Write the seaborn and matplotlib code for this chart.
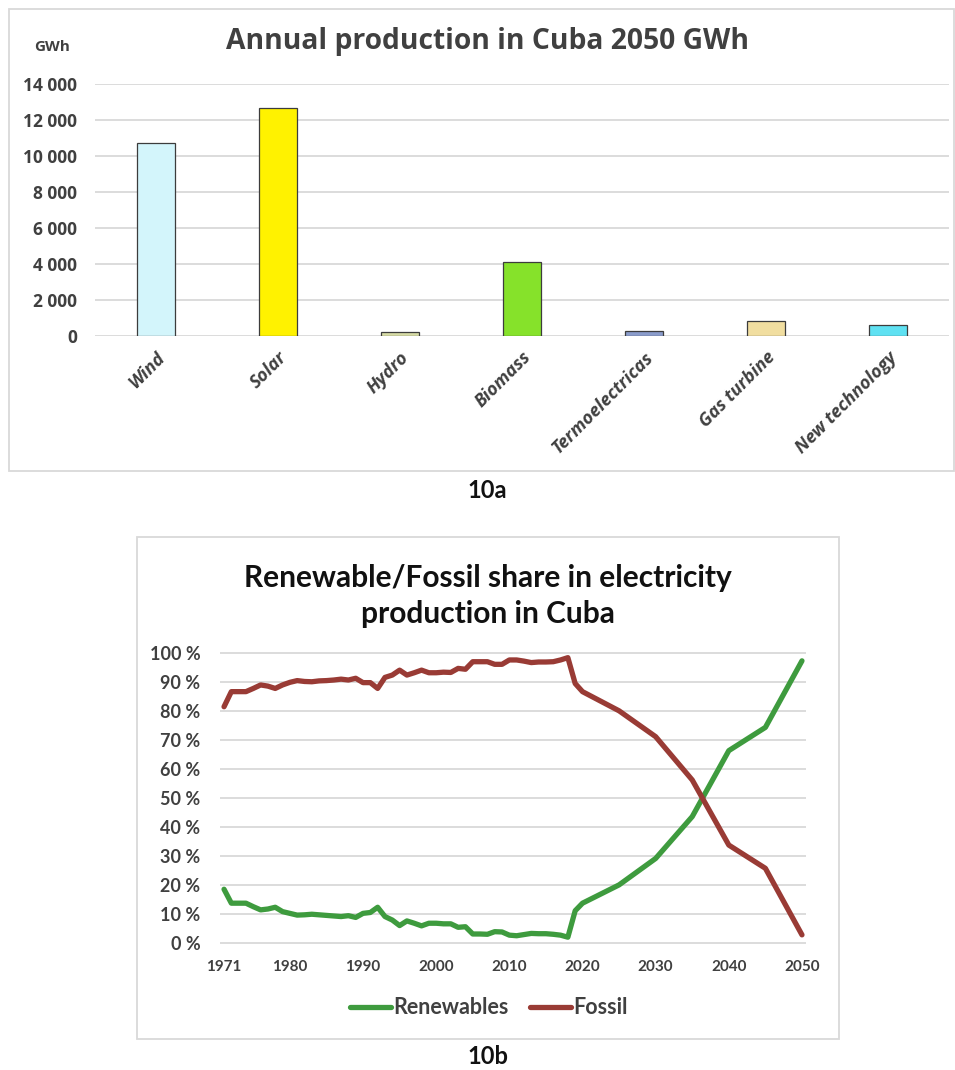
import matplotlib
matplotlib.use("Agg")
import matplotlib.pyplot as plt
from matplotlib.patches import Rectangle
from matplotlib.ticker import FuncFormatter
import seaborn as sns
import pandas as pd

# ---- 10a: annual production by source in 2050 (GWh) ----
categories = ["Wind", "Solar", "Hydro", "Biomass", "Termoelectricas",
              "Gas turbine", "New technology"]
production_gwh = [10700, 12650, 230, 4120, 260, 840, 600]
bar_colors = ["#d3f5fb", "#fff200", "#d7dca6", "#86e22a", "#8a9ccb",
              "#f1dea0", "#5fe1f2"]
gwh_ticks = [0, 2000, 4000, 6000, 8000, 10000, 12000, 14000]

# ---- 10b: renewable / fossil share of electricity production (%) ----
years = list(range(1971, 2019)) + [2019, 2020, 2025, 2030, 2035, 2040, 2045, 2050]
renewables = [18.6, 13.8, 13.8, 13.8, 12.6, 11.5, 11.8, 12.4, 10.9, 10.3,
              9.7, 9.8, 10.0, 9.8, 9.6, 9.4, 9.2, 9.5, 8.9, 10.3,
              10.6, 12.4, 9.2, 8.0, 6.1, 7.7, 6.9, 6.0, 6.9, 6.9,
              6.7, 6.7, 5.5, 5.7, 3.2, 3.2, 3.1, 4.0, 3.9, 2.8,
              2.6, 3.0, 3.4, 3.3, 3.3, 3.1, 2.8, 2.1,
              11.2, 13.8, 20.1, 29.2, 43.6, 66.3, 74.3, 97.2]
fossil = [81.4, 86.6, 86.6, 86.6, 87.7, 88.9, 88.5, 87.7, 88.9, 89.8,
          90.4, 90.1, 90.0, 90.3, 90.4, 90.6, 90.9, 90.6, 91.2, 89.7,
          89.7, 87.7, 91.5, 92.3, 94.0, 92.3, 93.1, 94.0, 93.1, 93.1,
          93.3, 93.2, 94.6, 94.3, 96.9, 96.9, 96.9, 96.0, 96.0, 97.5,
          97.5, 97.1, 96.6, 96.8, 96.8, 96.9, 97.5, 98.3,
          89.4, 86.6, 80.0, 71.1, 56.2, 33.8, 25.8, 2.9]
year_ticks = [1971, 1980, 1990, 2000, 2010, 2020, 2030, 2040, 2050]
share_ticks = list(range(0, 101, 10))
series_colors = {"Renewables": "#3e9b3e", "Fossil": "#993b35"}

W, H = 955, 1070
sns.set_theme(style="white")
plt.rcParams["font.family"] = ["Open Sans", "DejaVu Sans"]

TXT = "#404040"
GRID = "#d9d9d9"
LATO = ["Lato", "DejaVu Sans"]

fig = plt.figure(figsize=(W / 100, H / 100), dpi=100)


def px_rect(left, top, right, bottom):
    return [left / W, 1 - bottom / H, (right - left) / W, (bottom - top) / H]


def frame(left, top, right, bottom):
    fig.patches.append(Rectangle((left / W, 1 - bottom / H),
                                 (right - left) / W, (bottom - top) / H,
                                 transform=fig.transFigure, fill=False,
                                 ec=GRID, lw=1.3, zorder=0))


def fx(x):
    return x / W


def fy(y):
    return 1 - y / H


# ---------------- top chart ----------------
frame(8.5, 8.5, 954, 471)
ax1 = fig.add_axes(px_rect(95, 84, 949, 335.7))
df_a = pd.DataFrame({"source": categories, "gwh": production_gwh})
sns.barplot(data=df_a, x="source", y="gwh", hue="source", palette=bar_colors,
            saturation=1, width=0.31, edgecolor="#3c3c3c", linewidth=0.9,
            legend=False, ax=ax1, zorder=3)
ax1.set_xlim(-0.5, len(categories) - 0.5)
ax1.set_ylim(0, 14000)
ax1.set_yticks(gwh_ticks)
ax1.yaxis.set_major_formatter(FuncFormatter(lambda v, p: f"{int(v):,}".replace(",", " ")))
ax1.grid(axis="y", color=GRID, lw=1.3, zorder=0)
ax1.set_axisbelow(True)
for s in ax1.spines.values():
    s.set_visible(False)
ax1.set_xlabel("")
ax1.set_ylabel("")
ax1.tick_params(axis="y", length=0, pad=13, labelsize=12.5, labelcolor=TXT)
ax1.tick_params(axis="x", length=0, pad=9, labelcolor=TXT)
for lab in ax1.get_yticklabels():
    lab.set_fontweight("bold")
ax1.set_xticks(range(len(categories)))
ax1.set_xticklabels(categories, rotation=45, ha="right", rotation_mode="anchor",
                    fontsize=13, fontweight="bold", fontstyle="italic", color=TXT)

fig.text(fx(487), fy(42), "Annual production in Cuba 2050 GWh", ha="center",
         va="center", fontsize=20.3, fontweight="bold", color=TXT)
fig.text(fx(52), fy(47), "GWh", ha="center", va="center", fontsize=11,
         fontweight="bold", color=TXT)
fig.text(fx(487), fy(491), "10a", ha="center", va="center", fontsize=17,
         fontweight="bold", color="#111111", family=LATO)

# ---------------- bottom chart ----------------
frame(137, 537, 839, 1039)
ax2 = fig.add_axes(px_rect(220, 648.05, 806, 946.2))
df_b = pd.concat([
    pd.DataFrame({"year": years, "share": renewables, "source": "Renewables"}),
    pd.DataFrame({"year": years, "share": fossil, "source": "Fossil"}),
])
sns.lineplot(data=df_b, x="year", y="share", hue="source", palette=series_colors,
             linewidth=3.8, ax=ax2, legend=False, zorder=3,
             solid_capstyle="round", solid_joinstyle="round")
ax2.set_xlim(1970.45, 2050.55)
ax2.set_ylim(-1, 101.6)
ax2.set_yticks(share_ticks)
ax2.set_yticklabels([f"{v} %" for v in share_ticks])
ax2.set_xticks(year_ticks)
ax2.set_xticklabels([str(y) for y in year_ticks])
ax2.grid(axis="y", color=GRID, lw=1.3, zorder=0)
ax2.set_axisbelow(True)
for s in ax2.spines.values():
    s.set_visible(False)
ax2.set_xlabel("")
ax2.set_ylabel("")
ax2.tick_params(axis="y", length=0, pad=14, labelsize=13, labelcolor=TXT)
ax2.tick_params(axis="x", length=0, pad=10, labelsize=11, labelcolor=TXT)
for lab in ax2.get_yticklabels() + ax2.get_xticklabels():
    lab.set_fontweight("bold")
    lab.set_family(LATO)

lines = ax2.get_lines()
handles = [lines[0], lines[1]]
leg = fig.legend(handles, ["Renewables", "Fossil"], loc="center",
                 bbox_to_anchor=(fx(489), fy(1008)), ncol=2, frameon=False,
                 handlelength=1.9, handletextpad=0.12, columnspacing=1.0,
                 prop={"family": LATO, "size": 15.5, "weight": "bold"})
for t in leg.get_texts():
    t.set_color(TXT)

fig.text(fx(488), fy(578), "Renewable/Fossil share in electricity",
         ha="center", va="center", fontsize=21.5, fontweight="bold",
         color="#111111", family=LATO)
fig.text(fx(488), fy(614), "production in Cuba",
         ha="center", va="center", fontsize=21.5, fontweight="bold",
         color="#111111", family=LATO)
fig.text(fx(488), fy(1056), "10b", ha="center", va="center", fontsize=17,
         fontweight="bold", color="#111111", family=LATO)

fig.savefig("out.png", dpi=100, facecolor="white")
